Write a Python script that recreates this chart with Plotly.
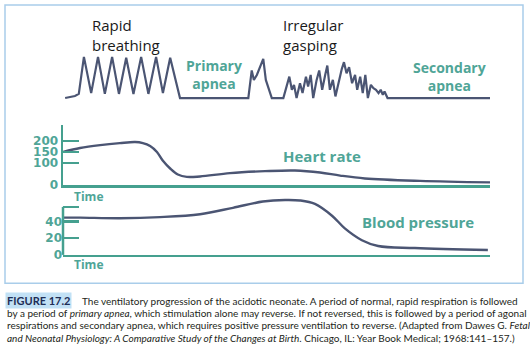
import plotly.graph_objects as go

W, H = 530, 355

# ---------------- data (time in arbitrary units 0-100) ----------------
resp_time = [0.5, 2.8, 3.7, 4.9, 6.6, 8.2, 9.8, 11.5, 13.1, 14.8, 16.5, 18.3, 20.0, 21.8,
             23.4, 25.1, 27.4, 43.1, 43.4, 44.2, 44.7, 45.4, 46.9, 47.5, 48.9, 51.6,
             52.4, 53.0, 53.6, 54.1, 54.7, 55.5, 56.1, 56.9, 57.4, 58.0, 58.6, 59.4,
             60.0, 60.7, 61.4, 61.9, 62.5, 63.2, 63.8, 64.6, 65.3, 65.8, 66.4, 67.0,
             67.7, 68.4, 68.9, 69.6, 70.2, 70.8, 71.4, 72.1, 72.7, 73.3, 73.9, 74.4,
             74.9, 75.3, 76.0, 100.0]
resp_amp = [0.0, 0.05, 0.1, 1.0, 0.12, 1.0, 0.1, 1.0, 0.1, 0.98, 0.1, 1.0, 0.1, 1.0,
            0.12, 0.98, 0.0, 0.0, 0.0, 0.67, 0.44, 0.56, 0.95, 0.44, 0.0, 0.0,
            0.28, 0.52, 0.2, 0.32, 0.0, 0.36, 0.12, 0.52, 0.28, 0.56, 0.0, 0.44,
            0.67, 0.2, 0.56, 0.79, 0.2, 0.44, 0.04, 0.44, 0.71, 0.87, 0.6, 0.75,
            0.36, 0.56, 0.2, 0.52, 0.12, 0.56, 0.0, 0.32, 0.24, 0.2, 0.12, 0.2,
            0.08, 0.16, 0.0, 0.0]

hr_time = [0, 4, 8.7, 13.3, 16.9, 18.7, 20.4, 22.0, 23.4, 25.1, 26.9, 29.0, 32.1,
           39.1, 47.3, 54.3, 60.2, 64.9, 70.7, 83.6, 100]
hr_bpm = [151, 169, 182, 191, 196, 191, 178, 151, 111, 76, 49, 38, 40,
          55, 64, 67, 58, 44, 31, 20, 13]

bp_time = [0, 4, 13.3, 22.7, 32.1, 39.8, 46.8, 52, 55.5, 59, 63, 66, 70, 73.8, 82.4, 99.5]
bp_mmhg = [44.7, 44.7, 44, 45.3, 48.8, 56.5, 64, 65.9, 65.3, 61.2, 47, 31.8, 17.6, 10.6, 8.2, 5.9]

hr_tick_vals = [0, 100, 150, 200, 271]
hr_tick_text = ["0", "100", "150", "200", ""]
bp_tick_vals = [0, 20, 40, 57.6]
bp_tick_text = ["0", "20", "40", ""]

# ---------------- styling ----------------
AXIS = "#45a08f"
TEAL_TXT = "#4fa597"
TRACE = "#4b5573"
BORDER = "#a9cdea"


def px(x):
    return x / W


def py(y):
    return 1 - y / H


XDOM = [px(63), px(490)]

fig = go.Figure()
fig.add_trace(go.Scatter(x=resp_time, y=resp_amp, mode="lines",
                         line=dict(color=TRACE, width=2.2), xaxis="x", yaxis="y"))
fig.add_trace(go.Scatter(x=hr_time, y=hr_bpm, mode="lines", line_shape="spline",
                         line=dict(color=TRACE, width=2.4), xaxis="x2", yaxis="y2"))
fig.add_trace(go.Scatter(x=bp_time, y=bp_mmhg, mode="lines", line_shape="spline",
                         line=dict(color=TRACE, width=2.4), xaxis="x3", yaxis="y3"))

tickfont = dict(family="DejaVu Sans", size=12, color=TEAL_TXT)
common_x = dict(domain=XDOM, range=[0, 100], showgrid=False, zeroline=False,
                showticklabels=False, ticks="")

fig.update_layout(
    width=W, height=H, margin=dict(l=0, r=0, t=0, b=0),
    paper_bgcolor="white", plot_bgcolor="rgba(0,0,0,0)", showlegend=False,
    hovermode=False, dragmode=False,
    xaxis=dict(common_x, anchor="y", visible=False),
    yaxis=dict(domain=[py(104.2), py(49.6)], range=[-0.1, 1.2], visible=False, anchor="x"),
    xaxis2=dict(common_x, anchor="y2", showline=True, linecolor=AXIS, linewidth=2.5),
    yaxis2=dict(domain=[py(189), py(128)], range=[0, 271], anchor="x2",
                showline=True, linecolor=AXIS, linewidth=2.5, showgrid=False, zeroline=False,
                ticks="inside", ticklen=16, tickwidth=2.5, tickcolor=AXIS,
                tickvals=hr_tick_vals, ticktext=["<b>%s</b>" % t for t in hr_tick_text],
                tickfont=tickfont),
    xaxis3=dict(common_x, anchor="y3", showline=True, linecolor=AXIS, linewidth=2.5),
    yaxis3=dict(domain=[py(260), py(200)], range=[0, 70.6], anchor="x3",
                showline=False, showgrid=False, zeroline=False,
                ticks="inside", ticklen=16, tickwidth=2.5, tickcolor=AXIS,
                tickvals=bp_tick_vals, ticktext=["<b>%s</b>" % t for t in bp_tick_text],
                tickfont=tickfont),
)

# vertical axis line of the blood-pressure panel (shorter than the data area)
fig.add_shape(type="line", xref="x3 domain", yref="y3 domain", x0=0, x1=0,
              y0=0, y1=bp_tick_vals[-1] / 70.6, line=dict(color=AXIS, width=2.5))

# figure border
fig.add_shape(type="rect", xref="paper", yref="paper", x0=px(5), x1=px(523),
              y0=py(289), y1=py(5), line=dict(color=BORDER, width=1.5))

LBL = "Open Sans"


def ann(text, x, y, size, color, bold=False, xanchor="center", family=LBL, **kw):
    fig.add_annotation(text=("<b>%s</b>" % text) if bold else text, x=px(x), y=py(y),
                       xref="paper", yref="paper", showarrow=False, xanchor=xanchor,
                       yanchor="middle", font=dict(family=family, size=size, color=color), **kw)


ann("Rapid<br>breathing", 90, 36, 15, "#1a1a1a", xanchor="left", align="left")
ann("Irregular<br>gasping", 281, 36, 15, "#1a1a1a", xanchor="left", align="left")
ann("Primary<br>apnea", 213.5, 76, 14, TEAL_TXT, bold=True)
ann("Secondary<br>apnea", 449.5, 78, 14, TEAL_TXT, bold=True)
ann("Heart rate", 322, 159, 15, TEAL_TXT, bold=True)
ann("Blood pressure", 418, 226, 15, TEAL_TXT, bold=True)
ann("Time", 88, 200, 12, TEAL_TXT, bold=True)
ann("Time", 88, 270, 12, TEAL_TXT, bold=True)

CAP = "Lato"
CAPC = "#231f20"
fig.add_annotation(text="<b>FIGURE 17.2</b>", x=px(5), y=py(307), xref="paper", yref="paper",
                   showarrow=False, xanchor="left", yanchor="middle", bgcolor="#c2e1f5",
                   borderpad=1, font=dict(family=CAP, size=11, color="#1e2d55"))
cap_lines = [
    (80, 307, "The ventilatory progression of the acidotic neonate. A period of normal, rapid respiration is followed"),
    (5, 319.5, "by a period of <i>primary apnea</i>, which stimulation alone may reverse. If not reversed, this is followed by a period of agonal"),
    (5, 332, "respirations and secondary apnea, which requires positive pressure ventilation to reverse. (Adapted from Dawes G. <i>Fetal</i>"),
    (5, 344.5, "<i>and Neonatal Physiology: A Comparative Study of the Changes at Birth</i>. Chicago, IL: Year Book Medical; 1968:141–157.)"),
]
for x, y, t in cap_lines:
    ann(t, x, y, 10, CAPC, xanchor="left", family=CAP)

fig.write_html("out.html", config={"displayModeBar": False, "staticPlot": True},
               post_script="document.body.style.margin='0';document.body.style.overflow='hidden';")
